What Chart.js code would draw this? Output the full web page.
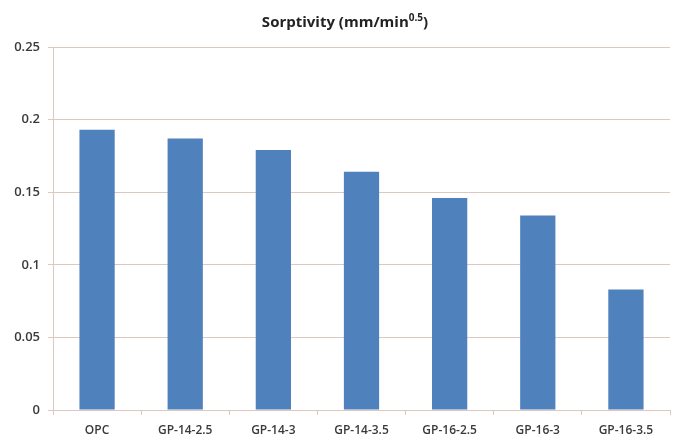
<!DOCTYPE html>
<html>
<head>
<meta charset="utf-8">
<script src="https://cdn.jsdelivr.net/npm/chart.js@4.4.1/dist/chart.umd.min.js"></script>
<style>
  html, body { margin: 0; padding: 0; background: #fff; }
  #wrap { width: 679px; height: 440px; }
</style>
</head>
<body>
<div id="wrap"><canvas id="chart" width="679" height="440"></canvas></div>
<script>
const categories = ['OPC', 'GP-14-2.5', 'GP-14-3', 'GP-14-3.5', 'GP-16-2.5', 'GP-16-3', 'GP-16-3.5'];
const sorptivity = [0.193, 0.187, 0.179, 0.164, 0.146, 0.134, 0.083];
const yTicks = [0, 0.05, 0.1, 0.15, 0.2, 0.25];

const gridColor = '#dcc8c0';
const textColor = '#3a3a3a';
const fontFamily = 'Open Sans, Liberation Sans, sans-serif';

// title with superscript exponent
const titlePlugin = {
    id: 'supTitle',
    afterDraw(chart) {
        const ctx = chart.ctx;
        const base = 'Sorptivity (mm/min';
        const sup = '0.5';
        const tail = ')';
        ctx.save();
        ctx.fillStyle = '#222';
        ctx.textBaseline = 'alphabetic';
        ctx.font = 'bold 15px ' + fontFamily;
        const w1 = ctx.measureText(base).width;
        const w3 = ctx.measureText(tail).width;
        ctx.font = 'bold 10px ' + fontFamily;
        const w2 = ctx.measureText(sup).width;
        const total = w1 + w2 + w3;
        let x = 345 - total / 2;
        const y = 27;
        ctx.font = 'bold 15px ' + fontFamily;
        ctx.fillText(base, x, y);
        x += w1;
        ctx.font = 'bold 10px ' + fontFamily;
        ctx.fillText(sup, x, y - 6);
        x += w2;
        ctx.font = 'bold 15px ' + fontFamily;
        ctx.fillText(tail, x, y);
        ctx.restore();
    }
};

new Chart(document.getElementById('chart'), {
    type: 'bar',
    data: {
        labels: categories,
        datasets: [{
            data: sorptivity,
            backgroundColor: '#4f81bd',
            borderWidth: 0,
            categoryPercentage: 1,
            barPercentage: 0.4
        }]
    },
    options: {
        responsive: false,
        animation: false,
        layout: { padding: { top: 47, right: 9, left: 0, bottom: 0 } },
        plugins: {
            legend: { display: false },
            tooltip: { enabled: false }
        },
        scales: {
            x: {
                afterFit(axis) { axis.height = 30; },
                grid: {
                    display: true,
                    drawOnChartArea: false,
                    color: gridColor,
                    tickLength: 5,
                    offset: true
                },
                border: { color: gridColor },
                ticks: {
                    color: textColor,
                    font: { size: 12, family: fontFamily, weight: '600' },
                    padding: 8,
                    maxRotation: 0
                }
            },
            y: {
                min: 0,
                max: 0.25,
                afterBuildTicks(axis) {
                    axis.ticks = yTicks.map(v => ({ value: v }));
                },
                afterFit(axis) { axis.width = 53; },
                grid: {
                    color: gridColor,
                    tickLength: 5
                },
                border: { color: gridColor },
                ticks: {
                    color: textColor,
                    font: { size: 13, family: fontFamily, weight: '600' },
                    padding: 8,
                    callback: v => String(v)
                }
            }
        }
    },
    plugins: [titlePlugin]
});
</script>
</body>
</html>
